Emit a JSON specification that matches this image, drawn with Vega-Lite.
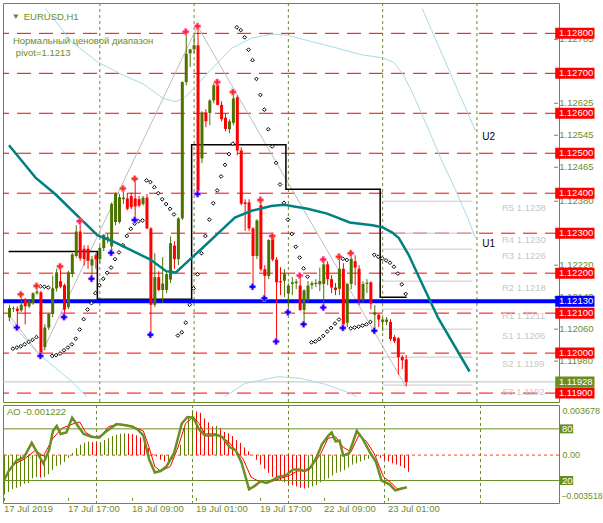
{
"$schema":"https://vega.github.io/schema/vega-lite/v6.json",
"background":"#ffffff",
"padding":{"left":2,"top":2,"right":0,"bottom":0},
"spacing":3,
"bounds":"flush",
"config":{
 "view":{"stroke":"#6b8e23","strokeWidth":1},
 "text":{"font":"Liberation Sans","fontSize":9.5}
},
"datasets":{
"bars":[
{"i":1,"o":1.12089,"h":1.12121,"l":1.12080,"c":1.12113},
{"i":2,"o":1.12110,"h":1.12117,"l":1.12103,"c":1.12112},
{"i":3,"o":1.12111,"h":1.12117,"l":1.12066,"c":1.12105},
{"i":4,"o":1.12107,"h":1.12146,"l":1.12103,"c":1.12121},
{"i":5,"o":1.12133,"h":1.12138,"l":1.12072,"c":1.12117},
{"i":6,"o":1.12117,"h":1.12133,"l":1.12113,"c":1.12130},
{"i":7,"o":1.12125,"h":1.12152,"l":1.12121,"c":1.12150},
{"i":8,"o":1.12150,"h":1.12168,"l":1.12146,"c":1.12154},
{"i":9,"o":1.12152,"h":1.12156,"l":1.11993,"c":1.12000},
{"i":10,"o":1.12015,"h":1.12072,"l":1.12007,"c":1.12064},
{"i":11,"o":1.12064,"h":1.12100,"l":1.12058,"c":1.12098},
{"i":12,"o":1.12098,"h":1.12194,"l":1.12090,"c":1.12162},
{"i":13,"o":1.12162,"h":1.12211,"l":1.12154,"c":1.12202},
{"i":14,"o":1.12180,"h":1.12217,"l":1.12162,"c":1.12166},
{"i":15,"o":1.12170,"h":1.12174,"l":1.12090,"c":1.12109},
{"i":16,"o":1.12115,"h":1.12206,"l":1.12110,"c":1.12202},
{"i":17,"o":1.12198,"h":1.12250,"l":1.12190,"c":1.12247},
{"i":18,"o":1.12243,"h":1.12320,"l":1.12239,"c":1.12304},
{"i":19,"o":1.12304,"h":1.12333,"l":1.12231,"c":1.12237},
{"i":20,"o":1.12261,"h":1.12270,"l":1.12219,"c":1.12235},
{"i":21,"o":1.12261,"h":1.12270,"l":1.12211,"c":1.12231},
{"i":22,"o":1.12219,"h":1.12243,"l":1.12186,"c":1.12235},
{"i":23,"o":1.12245,"h":1.12250,"l":1.12211,"c":1.12235},
{"i":24,"o":1.12235,"h":1.12268,"l":1.12225,"c":1.12263},
{"i":25,"o":1.12263,"h":1.12298,"l":1.12255,"c":1.12296},
{"i":26,"o":1.12285,"h":1.12300,"l":1.12275,"c":1.12290},
{"i":27,"o":1.12267,"h":1.12377,"l":1.12251,"c":1.12373},
{"i":28,"o":1.12328,"h":1.12402,"l":1.12320,"c":1.12398},
{"i":29,"o":1.12328,"h":1.12398,"l":1.12324,"c":1.12390},
{"i":30,"o":1.12385,"h":1.12414,"l":1.12373,"c":1.12389},
{"i":31,"o":1.12387,"h":1.12400,"l":1.12357,"c":1.12361},
{"i":32,"o":1.12393,"h":1.12402,"l":1.12360,"c":1.12365},
{"i":33,"o":1.12387,"h":1.12438,"l":1.12333,"c":1.12367},
{"i":34,"o":1.12385,"h":1.12393,"l":1.12365,"c":1.12369},
{"i":35,"o":1.12373,"h":1.12393,"l":1.12369,"c":1.12389},
{"i":36,"o":1.12389,"h":1.12398,"l":1.12310,"c":1.12312},
{"i":37,"o":1.12312,"h":1.12315,"l":1.12044,"c":1.12121},
{"i":38,"o":1.12121,"h":1.12250,"l":1.12115,"c":1.12190},
{"i":39,"o":1.12190,"h":1.12205,"l":1.12155,"c":1.12158},
{"i":40,"o":1.12158,"h":1.12240,"l":1.12125,"c":1.12174},
{"i":41,"o":1.12158,"h":1.12205,"l":1.12150,"c":1.12198},
{"i":42,"o":1.12184,"h":1.12292,"l":1.12175,"c":1.12275},
{"i":43,"o":1.12269,"h":1.12280,"l":1.12211,"c":1.12235},
{"i":44,"o":1.12235,"h":1.12340,"l":1.12220,"c":1.12337},
{"i":45,"o":1.12337,"h":1.12680,"l":1.12333,"c":1.12678},
{"i":46,"o":1.12678,"h":1.12802,"l":1.12670,"c":1.12749},
{"i":47,"o":1.12750,"h":1.12761,"l":1.12716,"c":1.12760},
{"i":48,"o":1.12760,"h":1.12795,"l":1.12750,"c":1.12770},
{"i":49,"o":1.12770,"h":1.12818,"l":1.12398,"c":1.12406},
{"i":50,"o":1.12487,"h":1.12605,"l":1.12475,"c":1.12602},
{"i":51,"o":1.12602,"h":1.12610,"l":1.12565,"c":1.12580},
{"i":52,"o":1.12601,"h":1.12635,"l":1.12570,"c":1.12632},
{"i":53,"o":1.12632,"h":1.12675,"l":1.12625,"c":1.12670},
{"i":54,"o":1.12670,"h":1.12678,"l":1.12620,"c":1.12621},
{"i":55,"o":1.12621,"h":1.12630,"l":1.12580,"c":1.12585},
{"i":56,"o":1.12589,"h":1.12600,"l":1.12555,"c":1.12561},
{"i":57,"o":1.12560,"h":1.12585,"l":1.12550,"c":1.12580},
{"i":58,"o":1.12576,"h":1.12652,"l":1.12570,"c":1.12637},
{"i":59,"o":1.12640,"h":1.12645,"l":1.12495,"c":1.12507},
{"i":60,"o":1.12507,"h":1.12515,"l":1.12370,"c":1.12374},
{"i":61,"o":1.12377,"h":1.12385,"l":1.12306,"c":1.12373},
{"i":62,"o":1.12377,"h":1.12385,"l":1.12305,"c":1.12312},
{"i":63,"o":1.12312,"h":1.12315,"l":1.12166,"c":1.12243},
{"i":64,"o":1.12243,"h":1.12335,"l":1.12235,"c":1.12332},
{"i":65,"o":1.12370,"h":1.12383,"l":1.12205,"c":1.12210},
{"i":66,"o":1.12210,"h":1.12220,"l":1.12137,"c":1.12193},
{"i":67,"o":1.12193,"h":1.12285,"l":1.12185,"c":1.12283},
{"i":68,"o":1.12291,"h":1.12296,"l":1.12230,"c":1.12234},
{"i":69,"o":1.12234,"h":1.12240,"l":1.12028,"c":1.12177},
{"i":70,"o":1.12180,"h":1.12215,"l":1.12145,"c":1.12177},
{"i":71,"o":1.12181,"h":1.12210,"l":1.12140,"c":1.12199},
{"i":72,"o":1.12149,"h":1.12175,"l":1.12102,"c":1.12169},
{"i":73,"o":1.12173,"h":1.12190,"l":1.12145,"c":1.12177},
{"i":74,"o":1.12175,"h":1.12185,"l":1.12160,"c":1.12179},
{"i":75,"o":1.12169,"h":1.12193,"l":1.12105,"c":1.12108},
{"i":76,"o":1.12108,"h":1.12160,"l":1.12072,"c":1.12157},
{"i":77,"o":1.12133,"h":1.12180,"l":1.12128,"c":1.12169},
{"i":78,"o":1.12170,"h":1.12180,"l":1.12160,"c":1.12175},
{"i":79,"o":1.12173,"h":1.12185,"l":1.12165,"c":1.12176},
{"i":80,"o":1.12172,"h":1.12214,"l":1.12155,"c":1.12180},
{"i":81,"o":1.12173,"h":1.12234,"l":1.12114,"c":1.12222},
{"i":82,"o":1.12222,"h":1.12230,"l":1.12170,"c":1.12185},
{"i":83,"o":1.12185,"h":1.12195,"l":1.12150,"c":1.12164},
{"i":84,"o":1.12164,"h":1.12175,"l":1.12145,"c":1.12158},
{"i":85,"o":1.12161,"h":1.12240,"l":1.12145,"c":1.12211},
{"i":86,"o":1.12211,"h":1.12225,"l":1.12063,"c":1.12072},
{"i":87,"o":1.12076,"h":1.12175,"l":1.12065,"c":1.12173},
{"i":88,"o":1.12173,"h":1.12250,"l":1.12160,"c":1.12236},
{"i":89,"o":1.12230,"h":1.12245,"l":1.12170,"c":1.12214},
{"i":90,"o":1.12211,"h":1.12220,"l":1.12120,"c":1.12133},
{"i":91,"o":1.12133,"h":1.12180,"l":1.12125,"c":1.12173},
{"i":92,"o":1.12173,"h":1.12185,"l":1.12150,"c":1.12176},
{"i":93,"o":1.12177,"h":1.12180,"l":1.12110,"c":1.12124},
{"i":94,"o":1.12096,"h":1.12120,"l":1.12057,"c":1.12102},
{"i":95,"o":1.12096,"h":1.12100,"l":1.12065,"c":1.12084},
{"i":96,"o":1.12078,"h":1.12090,"l":1.12055,"c":1.12084},
{"i":97,"o":1.12078,"h":1.12090,"l":1.12070,"c":1.12084},
{"i":98,"o":1.12078,"h":1.12085,"l":1.12030,"c":1.12035},
{"i":99,"o":1.12040,"h":1.12045,"l":1.12025,"c":1.12030},
{"i":100,"o":1.12037,"h":1.12040,"l":1.11946,"c":1.11990},
{"i":101,"o":1.11990,"h":1.11995,"l":1.11960,"c":1.11982},
{"i":102,"o":1.11984,"h":1.11995,"l":1.11917,"c":1.11928}
],
"levels":[{"p":1.119},{"p":1.12},{"p":1.121},{"p":1.122},{"p":1.123},{"p":1.124},{"p":1.125},{"p":1.126},{"p":1.127},{"p":1.128}],
"pticks":[{"p":1.12785},{"p":1.12625},{"p":1.12545},{"p":1.12465},{"p":1.1238},{"p":1.1222},{"p":1.1214},{"p":1.1206},{"p":1.1198}],
"marked":[{"kind":"pivot","p":1.1213},{"kind":"last","p":1.11928}],
"pivots":[{"name":"R5","p":1.1238},{"name":"R4","p":1.123},{"name":"R3","p":1.1226},{"name":"R2","p":1.1218},{"name":"R1","p":1.1211},{"name":"S1","p":1.1206},{"name":"S2","p":1.1199},{"name":"S3","p":1.1192}],
"days":[{"i":24},{"i":48},{"i":72},{"i":96},{"i":120}],
"timeticks":[{"i":1,"t":"17 Jul 2019"},{"i":17,"t":"17 Jul 17:00"},{"i":33,"t":"18 Jul 09:00"},{"i":49,"t":"19 Jul 01:00"},{"i":65,"t":"19 Jul 17:00"},{"i":81,"t":"22 Jul 09:00"},{"i":97,"t":"23 Jul 01:00"}],
"ma":[
{"i":1,"p":1.12520},{"i":4.5,"p":1.12478},{"i":7.75,"p":1.12439},{"i":12.75,"p":1.12398},{"i":23.5,"p":1.12295},{"i":27.75,"p":1.12278},{"i":37,"p":1.12234},{"i":41,"p":1.12205},{"i":43.5,"p":1.12202},{"i":47,"p":1.12234},{"i":50.25,"p":1.12263},{"i":54.5,"p":1.12302},{"i":58.5,"p":1.12339},{"i":62.75,"p":1.12356},{"i":67.75,"p":1.12368},{"i":71,"p":1.12371},{"i":77,"p":1.12361},{"i":82,"p":1.12349},{"i":87.75,"p":1.12327},{"i":93.5,"p":1.12320},{"i":96,"p":1.12315},{"i":98.5,"p":1.12302},{"i":100.25,"p":1.12288},{"i":102.75,"p":1.12246},{"i":105.25,"p":1.12193},{"i":110.25,"p":1.12088},{"i":118.25,"p":1.11954}
],
"bands":[
{"line":"upper","i":10.2,"p":1.12862},{"line":"upper","i":12.75,"p":1.12832},{"line":"upper","i":17,"p":1.12778},{"line":"upper","i":23.5,"p":1.12729},{"line":"upper","i":29.5,"p":1.12698},{"line":"upper","i":35.25,"p":1.12673},{"line":"upper","i":40.25,"p":1.12637},{"line":"upper","i":43.5,"p":1.12629},{"line":"upper","i":46,"p":1.12641},{"line":"upper","i":52,"p":1.12705},{"line":"upper","i":57.75,"p":1.12763},{"line":"upper","i":62.75,"p":1.12788},{"line":"upper","i":67.75,"p":1.12798},{"line":"upper","i":72,"p":1.12795},{"line":"upper","i":78.5,"p":1.12778},{"line":"upper","i":84.5,"p":1.12763},{"line":"upper","i":91,"p":1.12746},{"line":"upper","i":96,"p":1.12739},{"line":"upper","i":99,"p":1.12727},{"line":"upper","i":101,"p":1.12702},{"line":"upper","i":103.5,"p":1.12656},{"line":"upper","i":106,"p":1.12600},{"line":"upper","i":108.5,"p":1.12544},{"line":"upper","i":111,"p":1.12485},{"line":"upper","i":114.5,"p":1.12412},{"line":"upper","i":117.75,"p":1.12339},{"line":"upper","i":119.75,"p":1.12288},
{"line":"u2","i":106.2,"p":1.12862},{"line":"u2","i":119.75,"p":1.12556},
{"line":"lower1","i":0.75,"p":1.12085},{"line":"lower1","i":8.5,"p":1.11998},{"line":"lower1","i":17,"p":1.11929},{"line":"lower1","i":20.8,"p":1.11891},
{"line":"lower2","i":55.9,"p":1.11891},{"line":"lower2","i":61,"p":1.11924},{"line":"lower2","i":69.5,"p":1.11941},{"line":"lower2","i":75.25,"p":1.11937},{"line":"lower2","i":81.5,"p":1.11922},{"line":"lower2","i":87.75,"p":1.11900},{"line":"lower2","i":89.5,"p":1.11891}
],
"zigzag":[{"i":0.75,"p":1.12098},{"i":9,"p":1.11993},{"i":49,"p":1.12818},{"i":102,"p":1.11917}],
"dailypivot":[{"i":0.9,"p":1.12254},{"i":23.5,"p":1.12135},{"i":47.5,"p":1.12521},{"i":71.5,"p":1.12410},{"i":95.5,"p":1.12140},{"i":102.25,"p":1.12140}],
"sar":[
{"i":2,"p":1.12011},{"i":3,"p":1.12014},{"i":4,"p":1.12017},{"i":5,"p":1.12022},{"i":6,"p":1.12028},{"i":7,"p":1.12033},{"i":8,"p":1.12040},{"i":9,"p":1.12167},{"i":10,"p":1.12166},{"i":11,"p":1.12164},{"i":12,"p":1.11993},{"i":13,"p":1.11995},{"i":14,"p":1.11999},{"i":15,"p":1.12007},{"i":16,"p":1.12014},{"i":17,"p":1.12022},{"i":18,"p":1.12036},{"i":19,"p":1.12059},{"i":20,"p":1.12085},{"i":21,"p":1.12109},{"i":22,"p":1.12125},{"i":23,"p":1.12150},{"i":24,"p":1.12170},{"i":25,"p":1.12186},{"i":26,"p":1.12201},{"i":27,"p":1.12214},{"i":28,"p":1.12235},{"i":29,"p":1.12252},{"i":30,"p":1.12270},{"i":31,"p":1.12293},{"i":32,"p":1.12311},{"i":33,"p":1.12324},{"i":34,"p":1.12330},{"i":35,"p":1.12332},{"i":36,"p":1.12432},{"i":37,"p":1.12428},{"i":38,"p":1.12415},{"i":39,"p":1.12400},{"i":40,"p":1.12385},{"i":41,"p":1.12373},{"i":42,"p":1.12361},{"i":43,"p":1.12347},{"i":44,"p":1.12044},{"i":45,"p":1.12052},{"i":46,"p":1.12076},{"i":47,"p":1.12121},{"i":48,"p":1.12162},{"i":49,"p":1.12197},{"i":50,"p":1.12250},{"i":51,"p":1.12293},{"i":52,"p":1.12334},{"i":53,"p":1.12375},{"i":54,"p":1.12407},{"i":55,"p":1.12442},{"i":56,"p":1.12471},{"i":57,"p":1.12498},{"i":58,"p":1.12524},{"i":59,"p":1.12815},{"i":60,"p":1.12808},{"i":61,"p":1.12790},{"i":62,"p":1.12759},{"i":63,"p":1.12733},{"i":64,"p":1.12686},{"i":65,"p":1.12646},{"i":66,"p":1.12609},{"i":67,"p":1.12560},{"i":68,"p":1.12517},{"i":69,"p":1.12476},{"i":70,"p":1.12422},{"i":71,"p":1.12376},{"i":72,"p":1.12334},{"i":73,"p":1.12298},{"i":74,"p":1.12266},{"i":75,"p":1.12239},{"i":76,"p":1.12212},{"i":77,"p":1.12191},{"i":78,"p":1.12027},{"i":79,"p":1.12029},{"i":80,"p":1.12035},{"i":81,"p":1.12043},{"i":82,"p":1.12054},{"i":83,"p":1.12063},{"i":84,"p":1.12074},{"i":85,"p":1.12084},{"i":86,"p":1.12236},{"i":87,"p":1.12233},{"i":88,"p":1.12062},{"i":89,"p":1.12064},{"i":90,"p":1.12066},{"i":91,"p":1.12069},{"i":92,"p":1.12072},{"i":93,"p":1.12078},{"i":94,"p":1.12246},{"i":95,"p":1.12241},{"i":96,"p":1.12237},{"i":97,"p":1.12232},{"i":98,"p":1.12226},{"i":99,"p":1.12216},{"i":100,"p":1.12199},{"i":101,"p":1.12172},{"i":102,"p":1.12148}
],
"fractals":[
{"kind":"up","i":4,"p":1.12147},{"kind":"up","i":8,"p":1.12168},{"kind":"up","i":14,"p":1.12217},{"kind":"up","i":19,"p":1.12330},{"kind":"up","i":30,"p":1.12412},{"kind":"up","i":33,"p":1.12436},{"kind":"up","i":46,"p":1.12804},{"kind":"up","i":49,"p":1.12818},{"kind":"up","i":54,"p":1.12678},{"kind":"up","i":58,"p":1.12653},{"kind":"up","i":65,"p":1.12383},{"kind":"up","i":68,"p":1.12293},{"kind":"up","i":75,"p":1.12194},{"kind":"up","i":81,"p":1.12234},{"kind":"up","i":85,"p":1.12241},{"kind":"up","i":88,"p":1.12250},
{"kind":"down","i":3,"p":1.12064},{"kind":"down","i":9,"p":1.11993},{"kind":"down","i":15,"p":1.12090},{"kind":"down","i":22,"p":1.12186},{"kind":"down","i":27,"p":1.12251},{"kind":"down","i":33,"p":1.12333},{"kind":"down","i":37,"p":1.12046},{"kind":"down","i":49,"p":1.12398},{"kind":"down","i":63,"p":1.12166},{"kind":"down","i":66,"p":1.12137},{"kind":"down","i":69,"p":1.12029},{"kind":"down","i":72,"p":1.12102},{"kind":"down","i":76,"p":1.12072},{"kind":"down","i":81,"p":1.12114},{"kind":"down","i":86,"p":1.12063},{"kind":"down","i":94,"p":1.12056}
],
"ao":[
{"i":1,"ao":-0.0029},{"i":2,"ao":-0.0027},{"i":3,"ao":-0.0025},{"i":4,"ao":-0.0024},{"i":5,"ao":-0.0023},{"i":6,"ao":-0.0021},{"i":7,"ao":-0.00205},{"i":8,"ao":-0.0017},{"i":9,"ao":-0.0016},{"i":10,"ao":-0.00165},{"i":11,"ao":-0.0016},{"i":12,"ao":-0.0014},{"i":13,"ao":-0.0011},{"i":14,"ao":-0.0008},{"i":15,"ao":-0.0007},{"i":16,"ao":-0.0005},{"i":17,"ao":-0.0002},{"i":18,"ao":0.00015},{"i":19,"ao":0.0005},{"i":20,"ao":0.00076},{"i":21,"ao":0.0009},{"i":22,"ao":0.001},{"i":23,"ao":0.00095},{"i":24,"ao":0.0009},{"i":25,"ao":0.00095},{"i":26,"ao":0.0011},{"i":27,"ao":0.00125},{"i":28,"ao":0.0014},{"i":29,"ao":0.0015},{"i":30,"ao":0.00157},{"i":31,"ao":0.0016},{"i":32,"ao":0.00158},{"i":33,"ao":0.00154},{"i":34,"ao":0.00145},{"i":35,"ao":0.0013},{"i":36,"ao":0.001},{"i":37,"ao":0.0005},{"i":38,"ao":0.00007},{"i":39,"ao":-0.0001},{"i":40,"ao":-0.00034},{"i":41,"ao":-0.00047},{"i":42,"ao":-0.00042},{"i":43,"ao":-0.00027},{"i":44,"ao":-0.00002},{"i":45,"ao":0.00076},{"i":46,"ao":0.002},{"i":47,"ao":0.0027},{"i":48,"ao":0.0033},{"i":49,"ao":0.0032},{"i":50,"ao":0.0031},{"i":51,"ao":0.0027},{"i":52,"ao":0.0024},{"i":53,"ao":0.0021},{"i":54,"ao":0.00215},{"i":55,"ao":0.002},{"i":56,"ao":0.0017},{"i":57,"ao":0.0016},{"i":58,"ao":0.0014},{"i":59,"ao":0.0011},{"i":60,"ao":0.0009},{"i":61,"ao":0.00056},{"i":62,"ao":0.00027},{"i":63,"ao":-0.00002},{"i":64,"ao":-0.00034},{"i":65,"ao":-0.0007},{"i":66,"ao":-0.001},{"i":67,"ao":-0.0013},{"i":68,"ao":-0.0016},{"i":69,"ao":-0.0017},{"i":70,"ao":-0.0019},{"i":71,"ao":-0.002},{"i":72,"ao":-0.0021},{"i":73,"ao":-0.0022},{"i":74,"ao":-0.0023},{"i":75,"ao":-0.0024},{"i":76,"ao":-0.00245},{"i":77,"ao":-0.0024},{"i":78,"ao":-0.0023},{"i":79,"ao":-0.0022},{"i":80,"ao":-0.002},{"i":81,"ao":-0.0018},{"i":82,"ao":-0.0017},{"i":83,"ao":-0.0015},{"i":84,"ao":-0.0013},{"i":85,"ao":-0.0012},{"i":86,"ao":-0.0011},{"i":87,"ao":-0.0009},{"i":88,"ao":-0.0007},{"i":89,"ao":-0.0006},{"i":90,"ao":-0.00047},{"i":91,"ao":-0.00037},{"i":92,"ao":-0.00027},{"i":93,"ao":-0.00017},{"i":94,"ao":-0.0001},{"i":95,"ao":-0.0002},{"i":96,"ao":-0.00034},{"i":97,"ao":-0.00047},{"i":98,"ao":-0.0006},{"i":99,"ao":-0.0007},{"i":100,"ao":-0.0008},{"i":101,"ao":-0.00095},{"i":102,"ao":-0.001222}
],
"stochlevels":[{"s":80},{"s":20}],
"stoch":[
{"line":"main","i":0.9,"s":19.0},{"line":"main","i":2.17,"s":31.0},{"line":"main","i":4.1,"s":43.1},{"line":"main","i":6.02,"s":47.2},{"line":"main","i":7.94,"s":63.8},{"line":"main","i":9.38,"s":51.7},{"line":"main","i":10.83,"s":39.7},{"line":"main","i":12.27,"s":55.2},{"line":"main","i":13.23,"s":77.6},{"line":"main","i":14.19,"s":83.4},{"line":"main","i":15.15,"s":74.1},{"line":"main","i":16.6,"s":75.9},{"line":"main","i":18.04,"s":93.1},{"line":"main","i":19.48,"s":83.4},{"line":"main","i":20.92,"s":74.1},{"line":"main","i":22.85,"s":70.7},{"line":"main","i":24.77,"s":69.7},{"line":"main","i":26.69,"s":77.6},{"line":"main","i":29.1,"s":85.5},{"line":"main","i":31.0,"s":84.5},{"line":"main","i":32.94,"s":82.8},{"line":"main","i":34.38,"s":79.3},{"line":"main","i":35.83,"s":72.4},{"line":"main","i":37.27,"s":44.8},{"line":"main","i":38.7,"s":29.3},{"line":"main","i":40.15,"s":31.0},{"line":"main","i":41.6,"s":36.2},{"line":"main","i":43.5,"s":51.7},{"line":"main","i":45.44,"s":86.2},{"line":"main","i":46.88,"s":93.8},{"line":"main","i":48.33,"s":93.1},{"line":"main","i":49.77,"s":79.3},{"line":"main","i":51.21,"s":72.4},{"line":"main","i":52.65,"s":72.4},{"line":"main","i":54.1,"s":73.1},{"line":"main","i":55.54,"s":70.7},{"line":"main","i":57.46,"s":58.6},{"line":"main","i":58.9,"s":55.2},{"line":"main","i":60.35,"s":41.4},{"line":"main","i":62.27,"s":9.7},{"line":"main","i":63.7,"s":13.8},{"line":"main","i":65.15,"s":19.0},{"line":"main","i":66.6,"s":17.2},{"line":"main","i":68.0,"s":20.0},{"line":"main","i":69.5,"s":24.1},{"line":"main","i":71.4,"s":25.9},{"line":"main","i":73.3,"s":32.8},{"line":"main","i":74.8,"s":32.8},{"line":"main","i":76.2,"s":31.0},{"line":"main","i":77.65,"s":35.2},{"line":"main","i":79.1,"s":46.6},{"line":"main","i":80.5,"s":62.1},{"line":"main","i":82.0,"s":71.7},{"line":"main","i":82.9,"s":75.9},{"line":"main","i":83.9,"s":65.5},{"line":"main","i":84.9,"s":66.2},{"line":"main","i":85.8,"s":49.0},{"line":"main","i":87.3,"s":51.7},{"line":"main","i":89.2,"s":77.6},{"line":"main","i":90.6,"s":69.0},{"line":"main","i":92.6,"s":51.7},{"line":"main","i":94.0,"s":41.4},{"line":"main","i":95.4,"s":20.0},{"line":"main","i":97.4,"s":15.5},{"line":"main","i":98.8,"s":8.6},{"line":"main","i":100.25,"s":10.3},{"line":"main","i":101.7,"s":12.1},
{"line":"signal","i":3.13,"s":37.9},{"line":"signal","i":6.02,"s":44.8},{"line":"signal","i":8.9,"s":55.2},{"line":"signal","i":10.83,"s":48.3},{"line":"signal","i":13.23,"s":69.0},{"line":"signal","i":15.6,"s":81.0},{"line":"signal","i":18.5,"s":86.2},{"line":"signal","i":19.96,"s":87.9},{"line":"signal","i":21.4,"s":75.9},{"line":"signal","i":23.3,"s":70.7},{"line":"signal","i":25.25,"s":71.7},{"line":"signal","i":27.2,"s":82.8},{"line":"signal","i":30.06,"s":85.5},{"line":"signal","i":32.94,"s":83.4},{"line":"signal","i":35.83,"s":77.6},{"line":"signal","i":37.27,"s":58.6},{"line":"signal","i":38.7,"s":36.2},{"line":"signal","i":40.15,"s":31.0},{"line":"signal","i":42.56,"s":36.2},{"line":"signal","i":44.5,"s":58.6},{"line":"signal","i":46.4,"s":86.2},{"line":"signal","i":48.3,"s":93.8},{"line":"signal","i":49.77,"s":86.2},{"line":"signal","i":51.2,"s":74.1},{"line":"signal","i":54.1,"s":74.1},{"line":"signal","i":57.0,"s":65.5},{"line":"signal","i":58.9,"s":55.2},{"line":"signal","i":60.8,"s":44.8},{"line":"signal","i":62.75,"s":24.1},{"line":"signal","i":64.7,"s":19.0},{"line":"signal","i":66.6,"s":17.2},{"line":"signal","i":69.5,"s":21.4},{"line":"signal","i":72.4,"s":25.9},{"line":"signal","i":74.3,"s":31.0},{"line":"signal","i":77.2,"s":31.7},{"line":"signal","i":80.06,"s":50.0},{"line":"signal","i":82.0,"s":69.0},{"line":"signal","i":83.9,"s":70.7},{"line":"signal","i":85.8,"s":58.6},{"line":"signal","i":87.75,"s":53.4},{"line":"signal","i":89.7,"s":72.4},{"line":"signal","i":91.6,"s":65.5},{"line":"signal","i":93.5,"s":51.7},{"line":"signal","i":95.9,"s":24.1},{"line":"signal","i":97.85,"s":17.2},{"line":"signal","i":99.3,"s":10.3},{"line":"signal","i":101.2,"s":12.1}
]
},
"vconcat":[
{
"width":556,"height":399,
"layer":[
{"data":{"name":"days"},"mark":{"type":"rule","color":"#6b8e23","strokeDash":[3,3],"strokeWidth":1,"xOffset":0.5,"clip":true},
 "encoding":{"x":{"field":"i","type":"quantitative","scale":{"domain":[0.75,139.75],"nice":false,"zero":false},"axis":null}}},
{"data":{"name":"levels"},"mark":{"type":"rule","color":"#ff0000","strokeDash":[14,8],"strokeWidth":1,"clip":true},
 "encoding":{"y":{"field":"p","type":"quantitative","scale":{"domain":[1.118902,1.128634],"nice":false,"zero":false},"axis":null}}},
{"data":{"name":"pivots"},"mark":{"type":"rule","color":"#c8c8c8","strokeWidth":1},
 "encoding":{"x":{"datum":96,"type":"quantitative","scale":{"domain":[0.75,139.75],"nice":false,"zero":false},"axis":null},"x2":{"datum":119},
  "y":{"field":"p","type":"quantitative","scale":{"domain":[1.118902,1.128634],"nice":false,"zero":false},"axis":null}}},
{"data":{"name":"pivots"},"transform":[{"calculate":"datum.name + ' ' + format(datum.p, '.4f')","as":"label"}],
 "mark":{"type":"text","align":"left","baseline":"middle","dy":7,"color":"#c8c8c8"},
 "encoding":{"x":{"datum":126.5,"type":"quantitative","scale":{"domain":[0.75,139.75],"nice":false,"zero":false},"axis":null},
  "y":{"field":"p","type":"quantitative","scale":{"domain":[1.118902,1.128634],"nice":false,"zero":false},"axis":null},"text":{"field":"label"}}},
{"data":{"name":"marked"},"transform":[{"filter":"datum.kind == 'last'"}],"mark":{"type":"rule","color":"#c0c0c0","strokeWidth":1,"clip":true},
 "encoding":{"y":{"field":"p","type":"quantitative","scale":{"domain":[1.118902,1.128634],"nice":false,"zero":false},"axis":null}}},
{"data":{"name":"bands"},"mark":{"type":"line","color":"#a9dbe3","strokeWidth":1,"clip":true},
 "encoding":{"x":{"field":"i","type":"quantitative","scale":{"domain":[0.75,139.75],"nice":false,"zero":false},"axis":null},
  "y":{"field":"p","type":"quantitative","scale":{"domain":[1.118902,1.128634],"nice":false,"zero":false},"axis":null},"detail":{"field":"line"},"order":{"field":"i"}}},
{"data":{"name":"zigzag"},"mark":{"type":"line","color":"#bdbdbd","strokeWidth":1,"clip":true},
 "encoding":{"x":{"field":"i","type":"quantitative","scale":{"domain":[0.75,139.75],"nice":false,"zero":false},"axis":null},
  "y":{"field":"p","type":"quantitative","scale":{"domain":[1.118902,1.128634],"nice":false,"zero":false},"axis":null}}},
{"data":{"name":"dailypivot"},"mark":{"type":"line","color":"#000000","strokeWidth":1.5,"interpolate":"step-after","clip":true},
 "encoding":{"x":{"field":"i","type":"quantitative","scale":{"domain":[0.75,139.75],"nice":false,"zero":false},"axis":null},
  "y":{"field":"p","type":"quantitative","scale":{"domain":[1.118902,1.128634],"nice":false,"zero":false},"axis":null}}},
{"data":{"name":"marked"},"transform":[{"filter":"datum.kind == 'pivot'"}],"mark":{"type":"rule","color":"#0000ff","strokeWidth":4,"clip":true},
 "encoding":{"y":{"field":"p","type":"quantitative","scale":{"domain":[1.118902,1.128634],"nice":false,"zero":false},"axis":null}}},
{"data":{"name":"sar"},"mark":{"type":"point","shape":"diamond","size":14,"filled":true,"fill":"#ffffff","stroke":"#000000","strokeWidth":1,"opacity":1},
 "encoding":{"x":{"field":"i","type":"quantitative","scale":{"domain":[0.75,139.75],"nice":false,"zero":false},"axis":null},
  "y":{"field":"p","type":"quantitative","scale":{"domain":[1.118902,1.128634],"nice":false,"zero":false},"axis":null}}},
{"data":{"name":"bars"},"mark":{"type":"rule","strokeWidth":1,"xOffset":0.5},
 "encoding":{"x":{"field":"i","type":"quantitative","scale":{"domain":[0.75,139.75],"nice":false,"zero":false},"axis":null},
  "y":{"field":"l","type":"quantitative","scale":{"domain":[1.118902,1.128634],"nice":false,"zero":false},"axis":null},"y2":{"field":"h"},
  "color":{"condition":{"test":"datum.c >= datum.o","value":"#4b7300"},"value":"#ff0000"}}},
{"data":{"name":"bars"},"mark":{"type":"bar","width":3,"orient":"vertical","xOffset":0.5},
 "encoding":{"x":{"field":"i","type":"quantitative","scale":{"domain":[0.75,139.75],"nice":false,"zero":false},"axis":null},
  "y":{"field":"o","type":"quantitative","scale":{"domain":[1.118902,1.128634],"nice":false,"zero":false},"axis":null},"y2":{"field":"c"},
  "color":{"condition":{"test":"datum.c >= datum.o","value":"#4b7300"},"value":"#ff0000"}}},
{"data":{"name":"ma"},"mark":{"type":"line","color":"#008080","strokeWidth":2.5,"clip":true},
 "encoding":{"x":{"field":"i","type":"quantitative","scale":{"domain":[0.75,139.75],"nice":false,"zero":false},"axis":null},
  "y":{"field":"p","type":"quantitative","scale":{"domain":[1.118902,1.128634],"nice":false,"zero":false},"axis":null}}},
{"data":{"name":"fractals"},"mark":{"type":"point","shape":"cross","size":40,"filled":true,"stroke":"#ff80ff","strokeWidth":0.6,"opacity":1},
 "encoding":{"x":{"field":"i","type":"quantitative","scale":{"domain":[0.75,139.75],"nice":false,"zero":false},"axis":null},
  "y":{"field":"p","type":"quantitative","scale":{"domain":[1.118902,1.128634],"nice":false,"zero":false},"axis":null},
  "fill":{"condition":{"test":"datum.kind == 'up'","value":"#ff3000"},"value":"#0000ff"}}},
{"data":{"name":"pticks"},"mark":{"type":"rule","color":"#6b8e23","strokeWidth":1},
 "encoding":{"x":{"datum":139.75,"type":"quantitative","scale":{"domain":[0.75,139.75],"nice":false,"zero":false},"axis":null},"x2":{"datum":140.75},
  "y":{"field":"p","type":"quantitative","scale":{"domain":[1.118902,1.128634],"nice":false,"zero":false},"axis":null}}},
{"data":{"name":"pticks"},"mark":{"type":"text","align":"left","baseline":"middle","color":"#6b8e23"},
 "encoding":{"x":{"datum":141.1,"type":"quantitative","scale":{"domain":[0.75,139.75],"nice":false,"zero":false},"axis":null},
  "y":{"field":"p","type":"quantitative","scale":{"domain":[1.118902,1.128634],"nice":false,"zero":false},"axis":null},"text":{"field":"p","type":"quantitative","format":".5f"}}},
{"data":{"name":"levels"},"mark":{"type":"bar","orient":"horizontal","height":11,"color":"#ff0000"},
 "encoding":{"x":{"datum":140.06,"type":"quantitative","scale":{"domain":[0.75,139.75],"nice":false,"zero":false},"axis":null},"x2":{"datum":150.06},
  "y":{"field":"p","type":"quantitative","scale":{"domain":[1.118902,1.128634],"nice":false,"zero":false},"axis":null}}},
{"data":{"name":"marked"},"mark":{"type":"bar","orient":"horizontal","height":11},
 "encoding":{"x":{"datum":140.06,"type":"quantitative","scale":{"domain":[0.75,139.75],"nice":false,"zero":false},"axis":null},"x2":{"datum":150.06},
  "y":{"field":"p","type":"quantitative","scale":{"domain":[1.118902,1.128634],"nice":false,"zero":false},"axis":null},
  "color":{"condition":{"test":"datum.kind == 'pivot'","value":"#0000ff"},"value":"#6b8e23"}}},
{"data":{"name":"levels"},"mark":{"type":"text","align":"left","baseline":"middle","color":"#ffffff"},
 "encoding":{"x":{"datum":141.0,"type":"quantitative","scale":{"domain":[0.75,139.75],"nice":false,"zero":false},"axis":null},
  "y":{"field":"p","type":"quantitative","scale":{"domain":[1.118902,1.128634],"nice":false,"zero":false},"axis":null},"text":{"field":"p","type":"quantitative","format":".5f"}}},
{"data":{"name":"marked"},"mark":{"type":"text","align":"left","baseline":"middle","color":"#ffffff"},
 "encoding":{"x":{"datum":141.0,"type":"quantitative","scale":{"domain":[0.75,139.75],"nice":false,"zero":false},"axis":null},
  "y":{"field":"p","type":"quantitative","scale":{"domain":[1.118902,1.128634],"nice":false,"zero":false},"axis":null},"text":{"field":"p","type":"quantitative","format":".5f"}}},
{"data":{"values":[{}]},"mark":{"type":"point","shape":"triangle-down","size":28,"filled":true,"color":"#6b8e23","opacity":1},
 "encoding":{"x":{"datum":2.75,"type":"quantitative","scale":{"domain":[0.75,139.75],"nice":false,"zero":false},"axis":null},
  "y":{"datum":1.128415,"type":"quantitative","scale":{"domain":[1.118902,1.128634],"nice":false,"zero":false},"axis":null}}},
{"data":{"values":[{}]},"mark":{"type":"text","align":"left","baseline":"middle","color":"#6b8e23"},
 "encoding":{"x":{"datum":4.75,"type":"quantitative","scale":{"domain":[0.75,139.75],"nice":false,"zero":false},"axis":null},
  "y":{"datum":1.128415,"type":"quantitative","scale":{"domain":[1.118902,1.128634],"nice":false,"zero":false},"axis":null},"text":{"value":"EURUSD,H1"}}},
{"data":{"values":[{}]},"mark":{"type":"text","align":"left","baseline":"middle","color":"#6b8e23"},
 "encoding":{"x":{"datum":2.0,"type":"quantitative","scale":{"domain":[0.75,139.75],"nice":false,"zero":false},"axis":null},
  "y":{"datum":1.127805,"type":"quantitative","scale":{"domain":[1.118902,1.128634],"nice":false,"zero":false},"axis":null},"text":{"value":"Нормальный ценовой диапазон"}}},
{"data":{"values":[{}]},"mark":{"type":"text","align":"left","baseline":"middle","color":"#6b8e23"},
 "encoding":{"x":{"datum":2.75,"type":"quantitative","scale":{"domain":[0.75,139.75],"nice":false,"zero":false},"axis":null},
  "y":{"datum":1.12752,"type":"quantitative","scale":{"domain":[1.118902,1.128634],"nice":false,"zero":false},"axis":null},"text":{"value":"pivot=1.1213"}}},
{"data":{"values":[{"t":"U2","p":1.125415},{"t":"U1","p":1.122732}]},"mark":{"type":"text","align":"left","baseline":"middle","color":"#000000","fontSize":10},
 "encoding":{"x":{"datum":121.5,"type":"quantitative","scale":{"domain":[0.75,139.75],"nice":false,"zero":false},"axis":null},
  "y":{"field":"p","type":"quantitative","scale":{"domain":[1.118902,1.128634],"nice":false,"zero":false},"axis":null},"text":{"field":"t"}}}
]
},
{
"width":556,"height":98,
"layer":[
{"data":{"name":"days"},"mark":{"type":"rule","color":"#6b8e23","strokeDash":[3,3],"strokeWidth":1,"xOffset":0.5,"clip":true},
 "encoding":{"x":{"field":"i","type":"quantitative","scale":{"domain":[0.75,139.75],"nice":false,"zero":false},"axis":null}}},
{"layer":[
 {"data":{"values":[{}]},"mark":{"type":"rule","color":"#ff4500","strokeDash":[3,3],"strokeWidth":1,"clip":true},
  "encoding":{"y":{"datum":0,"type":"quantitative","scale":{"domain":[-0.003518,0.003678],"nice":false,"zero":false},"axis":null}}},
 {"data":{"name":"ao"},"transform":[{"window":[{"op":"lag","field":"ao","as":"prev"}],"sort":[{"field":"i"}]}],
  "mark":{"type":"rule","strokeWidth":1,"xOffset":0.5},
  "encoding":{"x":{"field":"i","type":"quantitative","scale":{"domain":[0.75,139.75],"nice":false,"zero":false},"axis":null},
   "y":{"field":"ao","type":"quantitative","scale":{"domain":[-0.003518,0.003678],"nice":false,"zero":false},"axis":null},"y2":{"datum":0},
   "color":{"condition":{"test":"datum.prev == null || datum.ao > datum.prev","value":"#5a8200"},"value":"#ff0000"}}},
 {"data":{"values":[{}]},"mark":{"type":"text","align":"left","baseline":"top","dy":2,"color":"#6b8e23"},
  "encoding":{"x":{"datum":1.75,"type":"quantitative","scale":{"domain":[0.75,139.75],"nice":false,"zero":false},"axis":null},
   "y":{"datum":0.003678,"type":"quantitative","scale":{"domain":[-0.003518,0.003678],"nice":false,"zero":false},"axis":null},"text":{"value":"AO -0.001222"}}},
 {"data":{"values":[{"v":0.003678}]},"mark":{"type":"text","align":"left","baseline":"top","dy":2,"color":"#6b8e23","fontSize":9},
  "encoding":{"x":{"datum":140.6,"type":"quantitative","scale":{"domain":[0.75,139.75],"nice":false,"zero":false},"axis":null},
   "y":{"field":"v","type":"quantitative","scale":{"domain":[-0.003518,0.003678],"nice":false,"zero":false},"axis":null},"text":{"field":"v","type":"quantitative","format":".6f"}}},
 {"data":{"values":[{"v":0}]},"mark":{"type":"text","align":"left","baseline":"middle","color":"#6b8e23","fontSize":9},
  "encoding":{"x":{"datum":140.6,"type":"quantitative","scale":{"domain":[0.75,139.75],"nice":false,"zero":false},"axis":null},
   "y":{"field":"v","type":"quantitative","scale":{"domain":[-0.003518,0.003678],"nice":false,"zero":false},"axis":null},"text":{"field":"v","type":"quantitative","format":".2f"}}},
 {"data":{"values":[{"v":-0.003518}]},"mark":{"type":"text","align":"left","baseline":"bottom","dy":-2,"color":"#6b8e23","fontSize":8.6},
  "encoding":{"x":{"datum":140.4,"type":"quantitative","scale":{"domain":[0.75,139.75],"nice":false,"zero":false},"axis":null},
   "y":{"field":"v","type":"quantitative","scale":{"domain":[-0.003518,0.003678],"nice":false,"zero":false},"axis":null},"text":{"field":"v","type":"quantitative","format":".6f"}}}
]},
{"layer":[
 {"data":{"name":"stochlevels"},"mark":{"type":"rule","color":"#6b8e23","strokeWidth":1,"clip":true},
  "encoding":{"y":{"field":"s","type":"quantitative","scale":{"domain":[-0.3,101.9],"nice":false,"zero":false},"axis":null}}},
 {"data":{"name":"stoch"},"transform":[{"filter":"datum.line == 'signal'"}],"mark":{"type":"line","color":"#ff0000","strokeWidth":1,"clip":true},
  "encoding":{"x":{"field":"i","type":"quantitative","scale":{"domain":[0.75,139.75],"nice":false,"zero":false},"axis":null},
   "y":{"field":"s","type":"quantitative","scale":{"domain":[-0.3,101.9],"nice":false,"zero":false},"axis":null}}},
 {"data":{"name":"stoch"},"transform":[{"filter":"datum.line == 'main'"}],"mark":{"type":"line","color":"#6b8e23","strokeWidth":2.5,"clip":true},
  "encoding":{"x":{"field":"i","type":"quantitative","scale":{"domain":[0.75,139.75],"nice":false,"zero":false},"axis":null},
   "y":{"field":"s","type":"quantitative","scale":{"domain":[-0.3,101.9],"nice":false,"zero":false},"axis":null}}},
 {"data":{"name":"stochlevels"},"mark":{"type":"bar","orient":"horizontal","height":9,"color":"#6b8e23"},
  "encoding":{"x":{"datum":140.0,"type":"quantitative","scale":{"domain":[0.75,139.75],"nice":false,"zero":false},"axis":null},"x2":{"datum":143.3},
   "y":{"field":"s","type":"quantitative","scale":{"domain":[-0.3,101.9],"nice":false,"zero":false},"axis":null}}},
 {"data":{"name":"stochlevels"},"mark":{"type":"text","align":"left","baseline":"middle","color":"#ffffff"},
  "encoding":{"x":{"datum":140.5,"type":"quantitative","scale":{"domain":[0.75,139.75],"nice":false,"zero":false},"axis":null},
   "y":{"field":"s","type":"quantitative","scale":{"domain":[-0.3,101.9],"nice":false,"zero":false},"axis":null},"text":{"field":"s","type":"quantitative","format":"d"}}},
 {"data":{"name":"timeticks"},"mark":{"type":"rule","color":"#6b8e23","strokeWidth":1,"xOffset":0.5},
  "encoding":{"x":{"field":"i","type":"quantitative","scale":{"domain":[0.75,139.75],"nice":false,"zero":false},"axis":null},
   "y":{"datum":-0.3,"type":"quantitative","scale":{"domain":[-0.3,101.9],"nice":false,"zero":false},"axis":null},"y2":{"datum":-3.6}}},
 {"data":{"name":"timeticks"},"mark":{"type":"text","align":"left","baseline":"top","dy":6,"color":"#6b8e23"},
  "encoding":{"x":{"field":"i","type":"quantitative","scale":{"domain":[0.75,139.75],"nice":false,"zero":false},"axis":null},
   "y":{"datum":-0.3,"type":"quantitative","scale":{"domain":[-0.3,101.9],"nice":false,"zero":false},"axis":null},"text":{"field":"t"}}}
]}
],
"resolve":{"scale":{"y":"independent"}}
}
]
}
